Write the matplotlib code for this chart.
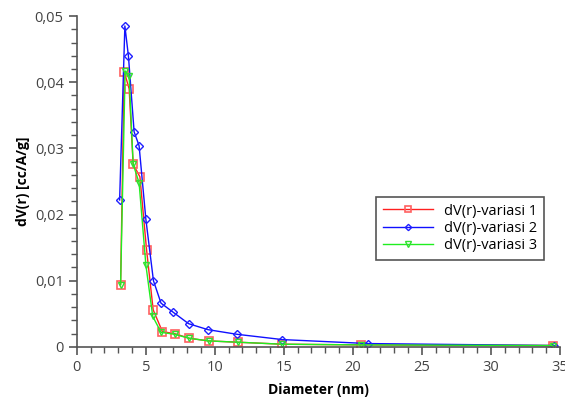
import matplotlib
matplotlib.use("Agg")
import matplotlib.pyplot as plt
from matplotlib.ticker import MultipleLocator, FuncFormatter

# diameters (nm) and dV(r) values
x_v1 = [3.17, 3.43, 3.79, 4.08, 4.57, 5.05, 5.53, 6.2, 7.08, 8.14, 9.54, 11.7, 14.9, 20.6, 34.5]
y_v1 = [0.0094, 0.0416, 0.0390, 0.0276, 0.0257, 0.0147, 0.0056, 0.0023, 0.0020, 0.0013, 0.0009, 0.0007, 0.0004, 0.0003, 0.0002]

x_v2 = [3.1, 3.48, 3.74, 4.15, 4.51, 5.0, 5.55, 6.1, 7.0, 8.1, 9.5, 11.6, 14.9, 21.1, 34.6]
y_v2 = [0.0222, 0.0485, 0.0439, 0.0325, 0.0304, 0.0193, 0.0100, 0.0066, 0.0052, 0.0035, 0.0026, 0.0019, 0.0011, 0.0005, 0.0002]

x_v3 = [3.17, 3.5, 3.79, 4.08, 4.51, 5.0, 5.5, 6.1, 7.08, 8.14, 9.54, 11.7, 14.9, 20.6, 34.5]
y_v3 = [0.0094, 0.0417, 0.0409, 0.0276, 0.0248, 0.0124, 0.0046, 0.0022, 0.0019, 0.0013, 0.0009, 0.0007, 0.0004, 0.0003, 0.0002]

labels = ["dV(r)-variasi 1", "dV(r)-variasi 2", "dV(r)-variasi 3"]

plt.rcParams['font.family'] = ['Open Sans', 'DejaVu Sans']

fig = plt.figure(figsize=(5.65, 4.01), dpi=100)
ax = fig.add_axes([0.136, 0.135, 0.855, 0.825])

ax.plot(x_v1, y_v1, color='#ff2020', lw=1, marker='s', ms=6, mfc='none',
        mec='#ff6060', mew=1.2, label=labels[0])
ax.plot(x_v2, y_v2, color='#1010ff', lw=1, marker='D', ms=4, mfc='none',
        mec='#2020ff', mew=1, label=labels[1])
ax.plot(x_v3, y_v3, color='#20ee20', lw=1, marker='v', ms=5, mfc='none',
        mec='#30e030', mew=1, label=labels[2])

ax.set_xlim(0, 35)
ax.set_ylim(0, 0.05)
ax.xaxis.set_major_locator(MultipleLocator(5))
ax.xaxis.set_minor_locator(MultipleLocator(1))
ax.yaxis.set_major_locator(MultipleLocator(0.01))
ax.yaxis.set_minor_locator(MultipleLocator(0.002))
ax.yaxis.set_major_formatter(FuncFormatter(lambda v, p: "0" if abs(v) < 1e-9 else f"{v:.2f}".replace(".", ",")))

for s in ['top', 'right']:
    ax.spines[s].set_visible(False)
for s in ['left', 'bottom']:
    ax.spines[s].set_color('#555555')
    ax.spines[s].set_linewidth(1.2)
ax.tick_params(which='major', length=6, width=1.2, color='#555555', labelsize=10.5, labelcolor='#444444')
ax.tick_params(which='minor', length=4, width=1, color='#555555')

ax.set_xlabel("Diameter (nm)", fontsize=10, fontweight='bold', labelpad=6)
ax.set_ylabel("dV(r) [cc/A/g]", fontsize=10, fontweight='bold', labelpad=3)

leg = ax.legend(loc='upper left', bbox_to_anchor=(0.605, 0.475), fontsize=10.5,
                fancybox=False, framealpha=1, edgecolor='#555555',
                handlelength=3.4, borderpad=0.45, labelspacing=0.15,
                markerscale=0.8)
leg.get_frame().set_linewidth(1.2)

fig.savefig("out.png", dpi=100)
